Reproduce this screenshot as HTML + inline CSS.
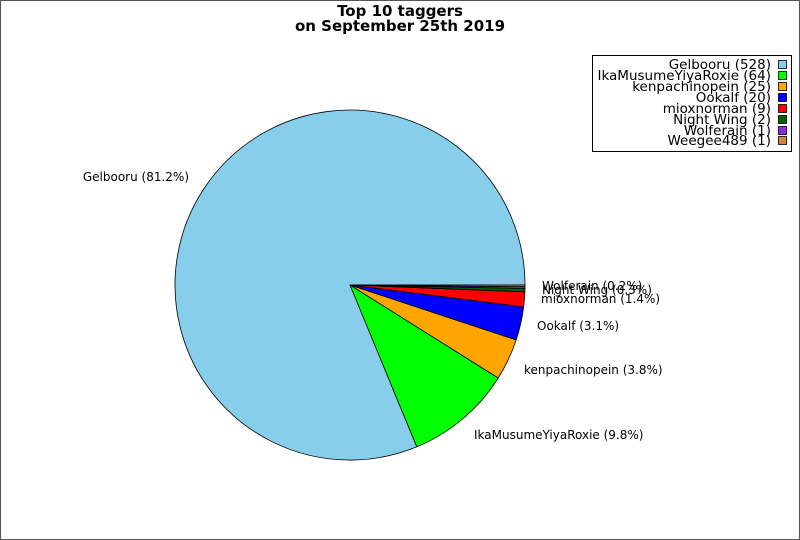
<!DOCTYPE html>
<html><head><meta charset="utf-8"><style>
html,body{margin:0;padding:0;background:#fff}
svg{display:block}
text{font-family:"DejaVu Sans","Liberation Sans",sans-serif;fill:#000}
</style></head><body>
<svg width="800" height="540" viewBox="0 0 800 540" xmlns="http://www.w3.org/2000/svg">
<rect x="0.5" y="0.5" width="799" height="539" fill="#fff" stroke="#555" stroke-width="1"/>
<text x="400" y="16" font-size="15" font-weight="bold" text-anchor="middle">Top 10 taggers</text>
<text x="400" y="31" font-size="15" font-weight="bold" text-anchor="middle">on September 25th 2019</text>
<g stroke="#000" stroke-width="0.8" stroke-linejoin="round">
<path d="M350,285 L525,285 A175,175 0 1 0 416.8,446.8 Z" fill="#87ceeb"/>
<path d="M350,285 L416.8,446.8 A175,175 0 0 0 498.2,378.0 Z" fill="#00ff00"/>
<path d="M350,285 L498.2,378.0 A175,175 0 0 0 516.2,339.9 Z" fill="#ffa500"/>
<path d="M350,285 L516.2,339.9 A175,175 0 0 0 523.6,306.9 Z" fill="#0000ff"/>
<path d="M350,285 L523.6,306.9 A175,175 0 0 0 524.9,291.8 Z" fill="#ff0000"/>
<path d="M350,285 L524.9,291.8 A175,175 0 0 0 524.97,288.4 Z" fill="#006400"/>
<path d="M350,285 L524.97,288.4 A175,175 0 0 0 525,286.7 Z" fill="#8a2be2"/>
<path d="M350,285 L525,286.7 A175,175 0 0 0 525,285 Z" fill="#cd853f"/>
</g>
<g font-size="12">
<text x="189" y="181" text-anchor="end">Gelbooru (81.2%)</text>
<text x="474" y="439">IkaMusumeYiyaRoxie (9.8%)</text>
<text x="524" y="374">kenpachinopein (3.8%)</text>
<text x="537" y="330">Ookalf (3.1%)</text>
<text x="541" y="303">mioxnorman (1.4%)</text>
<text x="542" y="294">Night Wing (0.3%)</text>
<text x="542" y="290">Wolferain (0.2%)</text>
</g>
<rect x="592.5" y="55.5" width="199" height="96" fill="#fff" stroke="#000" stroke-width="1"/>
<g font-size="13.5" text-anchor="end">
<text x="771" y="69">Gelbooru (528)</text>
<text x="771" y="80">IkaMusumeYiyaRoxie (64)</text>
<text x="771" y="91">kenpachinopein (25)</text>
<text x="771" y="102">Ookalf (20)</text>
<text x="771" y="113">mioxnorman (9)</text>
<text x="771" y="124">Night Wing (2)</text>
<text x="771" y="135">Wolferain (1)</text>
<text x="771" y="145">Weegee489 (1)</text>
</g>
<g stroke="#000" stroke-width="0.8">
<rect x="778.5" y="60.5" width="8" height="8" fill="#87ceeb"/>
<rect x="778.5" y="71.5" width="8" height="8" fill="#00ff00"/>
<rect x="778.5" y="82.5" width="8" height="8" fill="#ffa500"/>
<rect x="778.5" y="93.5" width="8" height="8" fill="#0000ff"/>
<rect x="778.5" y="104.5" width="8" height="8" fill="#ff0000"/>
<rect x="778.5" y="115.5" width="8" height="8" fill="#006400"/>
<rect x="778.5" y="126.5" width="8" height="8" fill="#8a2be2"/>
<rect x="778.5" y="136.5" width="8" height="8" fill="#cd853f"/>
</g>
</svg>
</body></html>
